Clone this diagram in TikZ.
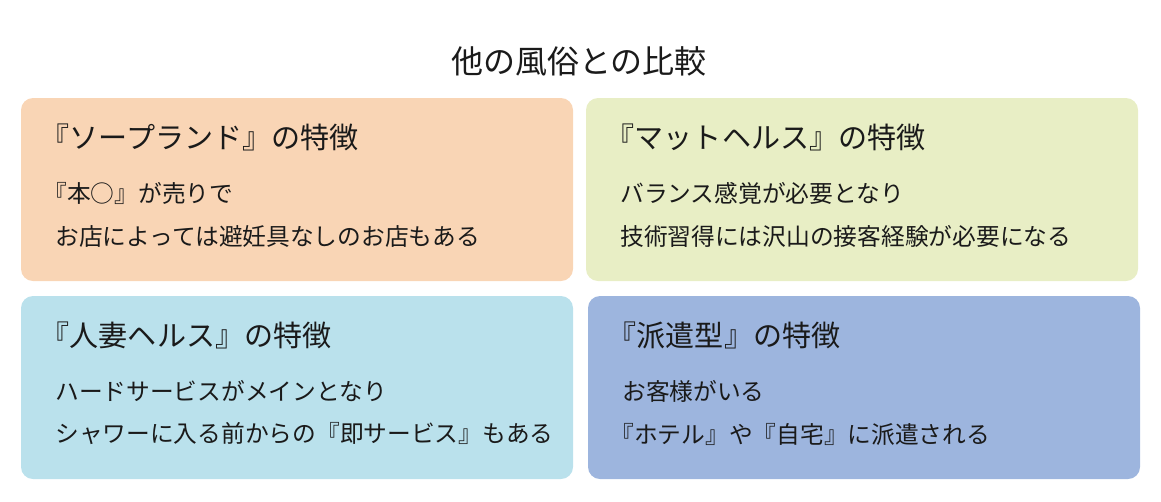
\documentclass[tikz,border=0pt]{standalone}
\usepackage{fontspec}
\setmainfont{Noto Sans CJK JP}
\usepackage{tikz}
\usetikzlibrary{positioning}
\usepackage{xcolor}
\definecolor{soapc}{HTML}{F9D5B5}
\definecolor{matc}{HTML}{E8EEC5}
\definecolor{wifec}{HTML}{BAE1EC}
\definecolor{dispc}{HTML}{9DB5DE}
\definecolor{inkc}{HTML}{1A1A1A}

\begin{document}
\begin{tikzpicture}[x=0.75pt, y=-0.75pt,
    panel/.style={draw=none, rounded corners=9pt},
    headtxt/.style={anchor=west, inner sep=0pt, text=inkc, font=\fontsize{21.8}{26}\selectfont},
    bodytxt/.style={anchor=west, inner sep=0pt, text=inkc, font=\fontsize{17.8}{22}\selectfont}]
    \useasboundingbox (0,0) rectangle (1161,501);

    % Title
    \node[inner sep=0pt, text=inkc, font=\fontsize{24}{28}\selectfont] (title) at (579,61) {他の風俗との比較};

    % Soapland
    \fill[panel, fill=soapc] (21,98) rectangle (573,281);
    \node[headtxt] (soaphead) at (55,137) {\kern-.5em『ソープランド』の特徴};
    \node[bodytxt] (soapone) at (55,193) {\kern-.5em『本○』が売りで};
    \node[bodytxt] (soaptwo) at (55,236) {お店によっては避妊具なしのお店もある};

    % Mat health
    \fill[panel, fill=matc] (586,98) rectangle (1138,281);
    \node[headtxt] (mathead) at (620,137) {\kern-.5em『マットヘルス』の特徴};
    \node[bodytxt] (matone) at (620,193) {バランス感覚が必要となり};
    \node[bodytxt] (mattwo) at (620,236) {技術習得には沢山の接客経験が必要になる};

    % Wife health
    \fill[panel, fill=wifec] (21,296) rectangle (573,479);
    \node[headtxt] (wifehead) at (55,335) {\kern-.5em『人妻ヘルス』の特徴};
    \node[bodytxt] (wifeone) at (55,391) {ハードサービスがメインとなり};
    \node[bodytxt] (wifetwo) at (55,434) {シャワーに入る前からの『即サービス』もある};

    % Dispatch type
    \fill[panel, fill=dispc] (588,296) rectangle (1140,479);
    \node[headtxt] (disphead) at (622,335) {\kern-.5em『派遣型』の特徴};
    \node[bodytxt] (dispone) at (622,391) {お客様がいる};
    \node[bodytxt] (disptwo) at (622,434) {\kern-.5em『ホテル』や『自宅』に派遣される};
\end{tikzpicture}
\end{document}
